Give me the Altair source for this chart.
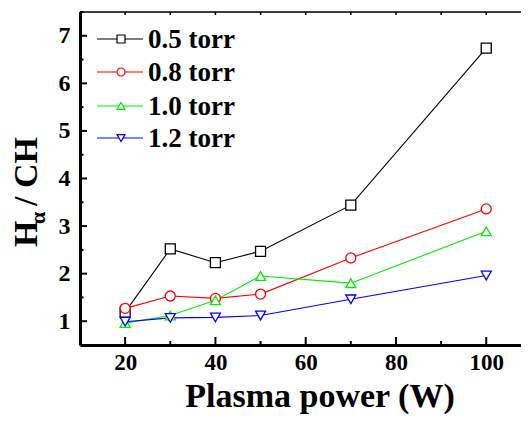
import altair as alt
import pandas as pd

power = [20, 30, 40, 50, 70, 100]
series_names = ["0.5 torr", "0.8 torr", "1.0 torr", "1.2 torr"]
t05 = [1.19, 2.52, 2.23, 2.47, 3.44, 6.74]
t08 = [1.27, 1.53, 1.48, 1.57, 2.33, 3.36]
t10 = [0.96, 1.12, 1.44, 1.95, 1.80, 2.89]
t12 = [0.99, 1.07, 1.08, 1.12, 1.46, 1.96]
colors = ["#000000", "#ff0000", "#00ee00", "#0000ff"]
shapes = ["square", "circle", "triangle-up", "triangle-down"]
y_major = [1, 2, 3, 4, 5, 6, 7]
y_minor = [1.5, 2.5, 3.5, 4.5, 5.5, 6.5, 7.5]
x_major = [20, 40, 60, 80, 100]
x_minor = [10, 30, 50, 70, 90]

W, H = 441, 333
FONT = "Times New Roman, Liberation Serif, DejaVu Serif, serif"

rows = []
for name, vals in zip(series_names, [t05, t08, t10, t12]):
    for p, v in zip(power, vals):
        rows.append({"series": name, "power": p, "ratio": v})
df = pd.DataFrame(rows)

xscale = alt.Scale(domain=[10, 107.7], nice=False, zero=False)
yscale = alt.Scale(domain=[0.5, 7.5], nice=False, zero=False)
cscale = alt.Scale(domain=series_names, range=colors)

xaxis = alt.Axis(values=x_major, ticks=False, grid=False, domainWidth=3, domainColor="black",
                 labelFont=FONT, labelFontWeight="bold", labelFontSize=23, labelColor="black",
                 labelPadding=6, title=None, format="d")
yaxis = alt.Axis(values=y_major, ticks=False, grid=False, domainWidth=3, domainColor="black",
                 labelFont=FONT, labelFontWeight="bold", labelFontSize=24, labelColor="black",
                 labelPadding=10, title=None, format="d")

lines = alt.Chart(df).mark_line(strokeWidth=1.1, clip=True).encode(
    x=alt.X("power:Q", scale=xscale, axis=xaxis),
    y=alt.Y("ratio:Q", scale=yscale, axis=yaxis),
    color=alt.Color("series:N", scale=cscale, legend=None),
    detail="series:N",
)

def yticks(vals, length):
    return alt.Chart(pd.DataFrame({"v": vals})).mark_rule(color="black", strokeWidth=2).encode(
        y=alt.Y("v:Q", scale=yscale), x=alt.value(0), x2=alt.value(length))

def xticks(vals, length, top=False):
    y0 = 0 if top else H
    y1 = length if top else H - length
    return alt.Chart(pd.DataFrame({"v": vals})).mark_rule(color="black", strokeWidth=2 if not top else 1.5).encode(
        x=alt.X("v:Q", scale=xscale), y=alt.value(y0), y2=alt.value(y1))

one = pd.DataFrame({"a": [0]})
top_line = alt.Chart(one).mark_rule(color="black", strokeWidth=1.5).encode(
    x=alt.value(0), x2=alt.value(W), y=alt.value(0))

layers = [top_line, yticks(y_major, 7), yticks(y_minor, 3.5), xticks(x_major, 8), xticks(x_minor, 4),
          xticks(x_major + x_minor, 3, top=True), lines]

for i, name in enumerate(series_names):
    layers.append(alt.Chart(df[df.series == name]).mark_point(
        filled=False, fill="white", fillOpacity=1, size=100, strokeWidth=1.3, opacity=1,
        shape=shapes[i], color=colors[i]).encode(
        x=alt.X("power:Q", scale=xscale), y=alt.Y("ratio:Q", scale=yscale)))

# legend
row_y = [27, 60, 94, 126]
for i, name in enumerate(series_names):
    c = alt.Chart(pd.DataFrame({"s": [name]}))
    layers.append(c.mark_rule(color=colors[i], strokeWidth=1.1).encode(
        x=alt.value(17), x2=alt.value(63), y=alt.value(row_y[i])))
    layers.append(c.mark_point(filled=False, fill="white", fillOpacity=1, size=64, strokeWidth=1.2, opacity=1,
                               shape=shapes[i], color=colors[i]).encode(
        x=alt.value(41), y=alt.value(row_y[i])))
    layers.append(c.mark_text(font=FONT, fontWeight="bold", fontSize=27, align="left", baseline="middle",
                              color="black").encode(
        x=alt.value(68), y=alt.value(row_y[i] + 1), text="s:N"))

# axis titles
layers.append(alt.Chart(pd.DataFrame({"t": ["Plasma power (W)"]})).mark_text(
    font=FONT, fontWeight="bold", fontSize=34, align="center", baseline="alphabetic", color="black").encode(
    x=alt.value(240), y=alt.value(394.5), text="t:N"))
layers.append(alt.Chart(pd.DataFrame({"t": ["H"]})).mark_text(
    font=FONT, fontWeight="bold", fontSize=34, align="left", baseline="alphabetic", angle=270, color="black").encode(
    x=alt.value(-43), y=alt.value(235), text="t:N"))
layers.append(alt.Chart(pd.DataFrame({"t": ["α"]})).mark_text(
    font=FONT, fontWeight="bold", fontSize=22, align="left", baseline="alphabetic", angle=270, color="black").encode(
    x=alt.value(-35), y=alt.value(212), text="t:N"))
layers.append(alt.Chart(pd.DataFrame({"t": ["/ CH"]})).mark_text(
    font=FONT, fontWeight="bold", fontSize=34, align="left", baseline="alphabetic", angle=270, color="black").encode(
    x=alt.value(-43), y=alt.value(194), text="t:N"))

chart = alt.layer(*layers).properties(
    width=W, height=H,
    autosize=alt.AutoSizeParams(type="none"),
    padding={"left": 72, "top": 4, "right": 0, "bottom": 69},
).configure_view(stroke=None).configure(background="white")

chart.save("out.html", embed_options={"renderer": "svg", "actions": False})
